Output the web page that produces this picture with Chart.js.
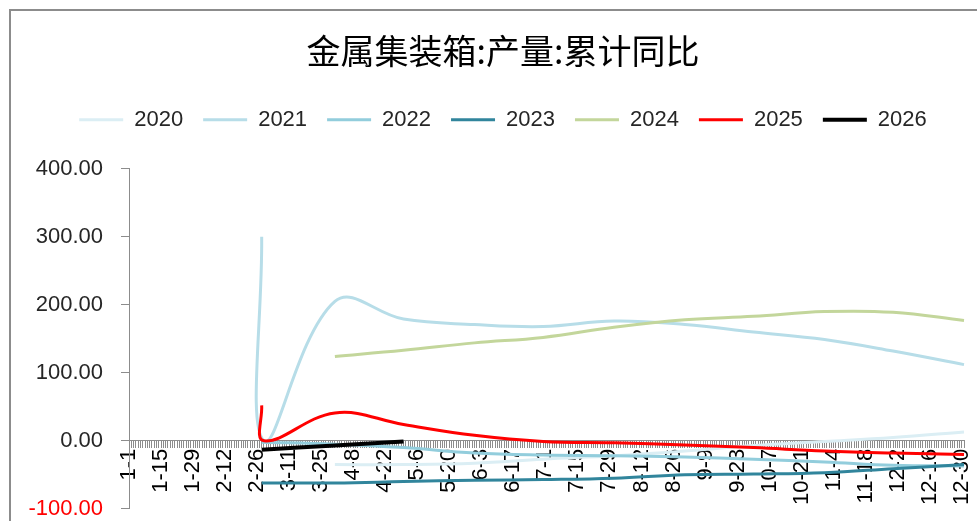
<!DOCTYPE html>
<html>
<head>
<meta charset="utf-8">
<script src="https://cdn.jsdelivr.net/npm/chart.js@4.4.1/dist/chart.umd.min.js"></script>
<style>
  html, body { margin: 0; padding: 0; background: #fff; }
  #wrap { position: relative; width: 977px; height: 521px; overflow: hidden; }
  #frame { position: absolute; left: 9px; top: 9px; width: 1100px; height: 700px;
           border-left: 2px solid #8c8c8c; border-top: 2px solid #8c8c8c; }
  #chart { position: absolute; left: 0; top: 0; }
</style>
</head>
<body>
<div id="wrap">
  <div id="frame"></div>
  <canvas id="chart" width="1004" height="540"></canvas>
</div>
<script>
// daily categories of a leap year, 1-1 .. 12-31
const monthDays = [31, 29, 31, 30, 31, 30, 31, 31, 30, 31, 30, 31];
const categories = [];
monthDays.forEach((n, m) => {
  for (let d = 1; d <= n; d++) categories.push((m + 1) + "-" + d);
});

// dates where the monthly values sit
const pointDates = ["2-28", "2-29", "3-31", "4-30", "5-31", "6-30", "7-31", "8-31", "9-30", "10-31", "11-30", "12-31"];

const s2020 = [null, null, -35, -35, -33, -27, -22, -15, -7, -1, 5, 13];
const s2021 = [300, 0, 205, 179, 171, 168, 176, 171, 160, 149, 132, 112];
const s2022 = [-2, null, -5, -10, -18, -21, -22, -24, -27, -31, -36, -37];
const s2023 = [-62, null, -62, -60, -58, -57, -55, -50, -49, -47, -41, -35];
const s2024 = [null, null, 124, 133, 144, 152, 167, 178, 183, 190, 189, 177];
const s2025 = [52, 0, 41, 24, 8, -1, -3, -6, -10, -15, -18, -20];
const s2026 = [-13, null, -7, -1, null, null, null, null, null, null, null, null];

const years = ["2020", "2021", "2022", "2023", "2024", "2025", "2026"];
const seriesList = [s2020, s2021, s2022, s2023, s2024, s2025, s2026];
const colors = ["#dbeef4", "#b7dde8", "#92cddc", "#31859c", "#c3d69b", "#ff0000", "#000000"];

const FONT = "'Liberation Sans', Arial, sans-serif";
const TEXT = "#262626";

function toPoints(values) {
  const pts = [];
  values.forEach((v, i) => {
    if (v !== null) pts.push({ x: pointDates[i], y: v });
  });
  return pts;
}

const datasets = years.map((y, i) => ({
  label: y,
  data: toPoints(seriesList[i]),
  borderColor: colors[i],
  backgroundColor: colors[i],
  borderWidth: y === "2026" ? 4 : 3,
  pointRadius: 0,
  tension: 0.4,
  fill: false,
  order: years.length - i,
}));

// gap under the legend, and title/legend centred on the whole chart box
const layoutTweaks = {
  id: "layoutTweaks",
  beforeUpdate(chart) {
    if (chart.legend && !chart.legend._gapped) {
      const fit = chart.legend.fit;
      chart.legend.fit = function () {
        fit.call(this);
        this.height += 28;
      };
      chart.legend._gapped = true;
    }
  },
  afterLayout(chart) {
    [chart.titleBlock, chart.legend].forEach((b) => {
      if (b) { b.left += 21; b.right += 21; }
    });
  },
};

const ctx = document.getElementById("chart").getContext("2d");
new Chart(ctx, {
  type: "line",
  data: { labels: categories, datasets: datasets },
  plugins: [layoutTweaks],
  options: {
    responsive: false,
    animation: false,
    layout: { padding: { left: 0, right: 40, top: 0, bottom: 13 } },
    plugins: {
      title: {
        display: true,
        text: "金属集装箱:产量:累计同比",
        color: "#000",
        font: { family: "'Noto Sans CJK SC', sans-serif", size: 34, weight: "normal" },
        padding: { top: 31, bottom: 17 },
      },
      legend: {
        display: true,
        position: "top",
        labels: {
          usePointStyle: true,
          pointStyle: "line",
          pointStyleWidth: 44,
          padding: 20,
          color: TEXT,
          font: { family: FONT, size: 22 },
          sort: (a, b) => a.datasetIndex - b.datasetIndex,
        },
      },
      tooltip: { enabled: false },
    },
    scales: {
      x: {
        type: "category",
        position: { y: 0 },
        offset: false,
        grid: { drawOnChartArea: false, drawTicks: true, tickLength: 7, color: "#8c8c8c" },
        border: { color: "#8c8c8c" },
        ticks: {
          autoSkip: false,
          maxRotation: 90,
          minRotation: 90,
          padding: 1,
          color: "#000",
          font: { family: FONT, size: 22 },
          callback: (v, i) => (i % 14 === 0 ? categories[i] : ""),
        },
      },
      y: {
        min: -100,
        max: 400,
        grid: { drawOnChartArea: false, drawTicks: true, tickLength: 8, color: "#8c8c8c" },
        border: { color: "#8c8c8c" },
        ticks: {
          stepSize: 100,
          padding: 18,
          color: (c) => (c.tick.value < 0 ? "#ff0000" : TEXT),
          font: { family: FONT, size: 22 },
          callback: (v) => Number(v).toFixed(2),
        },
        afterFit: (s) => { s.width = 129; },
      },
    },
  },
});
</script>
</body>
</html>
